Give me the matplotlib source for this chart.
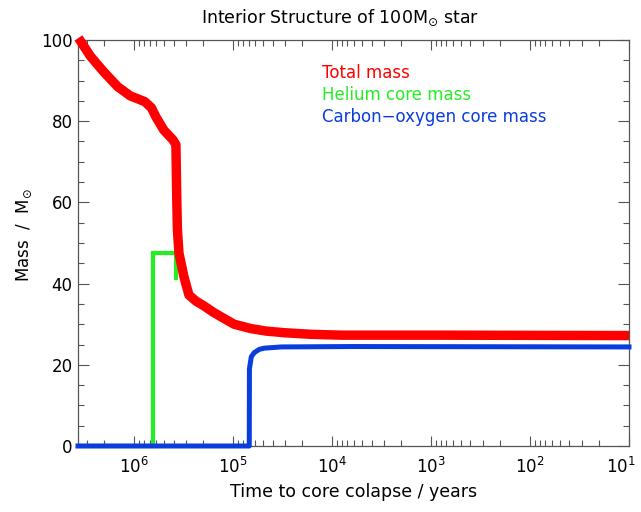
import matplotlib
matplotlib.use("Agg")
import matplotlib.pyplot as plt
from matplotlib.ticker import FixedLocator, LogLocator, MultipleLocator, NullFormatter
from matplotlib.transforms import ScaledTranslation

plt.rcParams['font.family'] = ['DejaVu Sans']
plt.rcParams['mathtext.fontset'] = 'dejavusans'

# Total mass (years before collapse, solar masses)
t_total = [3.66e6, 2.77e6, 2.04e6, 1.47e6, 1.09e6, 9.4e5, 7.8e5, 6.7e5, 6.05e5, 5.02e5,
           4.06e5, 3.79e5, 3.71e5, 3.66e5, 3.53e5, 3.14e5, 2.8e5, 2.38e5, 1.97e5,
           1.6e5, 1.32e5, 9.8e4, 6.56e4, 4.62e4, 3.03e4, 1.61e4, 8.0e3, 977, 10]
m_total = [100.5, 96, 92.2, 88.5, 86.2, 85.6, 84.8, 83.3, 81.1, 77.8,
           75.4, 74.2, 60, 53.2, 47.5, 41.6, 37.2, 35.7, 34.5,
           33.0, 31.8, 30.0, 28.9, 28.3, 27.9, 27.5, 27.3, 27.3, 27.2]

# Helium core mass
t_he = [3.7e6, 6.5e5, 6.5e5, 3.8e5, 3.8e5]
m_he = [0, 0, 47.5, 47.5, 41.4]

# Carbon-oxygen core mass
t_co = [3.7e6, 6.88e4, 6.85e4, 6.56e4, 6.12e4, 5.45e4, 4.84e4, 3.26e4, 6.3e3, 10]
m_co = [0, 0, 19, 22, 23.0, 23.8, 24.1, 24.4, 24.5, 24.4]

x_ticks = [1e6, 1e5, 1e4, 1e3, 1e2, 1e1]
labels = ["Total mass", "Helium core mass", "Carbon\u2212oxygen core mass"]
red, green, blue = "#ff0000", "#22ee22", "#0a3ddd"

fig = plt.figure(figsize=(6.41, 5.12), dpi=100)
ax = fig.add_axes([78/641, 1-446/512, (629-78)/641, (446-40)/512])

ax.plot(t_he, m_he, color=green, lw=3.0, solid_joinstyle='miter', clip_on=False, zorder=2)
ax.plot(t_co, m_co, color=blue, lw=3.6, solid_joinstyle='round', clip_on=False, zorder=3)
ax.plot(t_total, m_total, color=red, lw=6.8, solid_capstyle='butt',
        solid_joinstyle='round', clip_on=False, zorder=4)

ax.set_xscale('log')
ax.set_xlim(3.7e6, 10)
ax.set_ylim(0, 100)

ax.xaxis.set_major_locator(FixedLocator(x_ticks))
ax.xaxis.set_minor_locator(LogLocator(base=10, subs=range(2, 10), numticks=20))
ax.xaxis.set_minor_formatter(NullFormatter())
ax.yaxis.set_major_locator(MultipleLocator(20))
ax.yaxis.set_minor_locator(MultipleLocator(5))

ax.tick_params(which='both', direction='in', top=True, right=True, labelsize=12,
               color='#555555', width=0.8)
ax.tick_params(axis='x', which='major', length=7, pad=8)
ax.tick_params(axis='x', which='minor', length=4)
ax.tick_params(axis='y', which='major', length=8, pad=4)
ax.tick_params(axis='y', which='minor', length=4)
for s in ax.spines.values():
    s.set_color('#555555')
    s.set_linewidth(0.9)

ax.set_xlabel("Time to core colapse / years", fontsize=12.5, labelpad=4)
ax.set_ylabel(r"Mass  /  M$_{\odot}$", fontsize=12)
ax.yaxis.set_label_coords(-(78-34)/551, 0.52)
fig.text(340/641, 1-18/512, r"Interior Structure of 100M$_{\odot}$ star", fontsize=12.5,
         ha='center', va='center')

for i, (lab, c) in enumerate(zip(labels, [red, green, blue])):
    fig.text(322/641, 1-(73+22*i)/512, lab, color=c, fontsize=12, ha='left', va='center')

# nudge the last x tick label (10^1) inward so it stays inside the figure
fig.canvas.draw()
last = ax.xaxis.get_major_ticks()[len(x_ticks) - 1].label1
last.set_transform(last.get_transform() + ScaledTranslation(-6/72, 0, fig.dpi_scale_trans))

fig.savefig("out.png", dpi=100)
